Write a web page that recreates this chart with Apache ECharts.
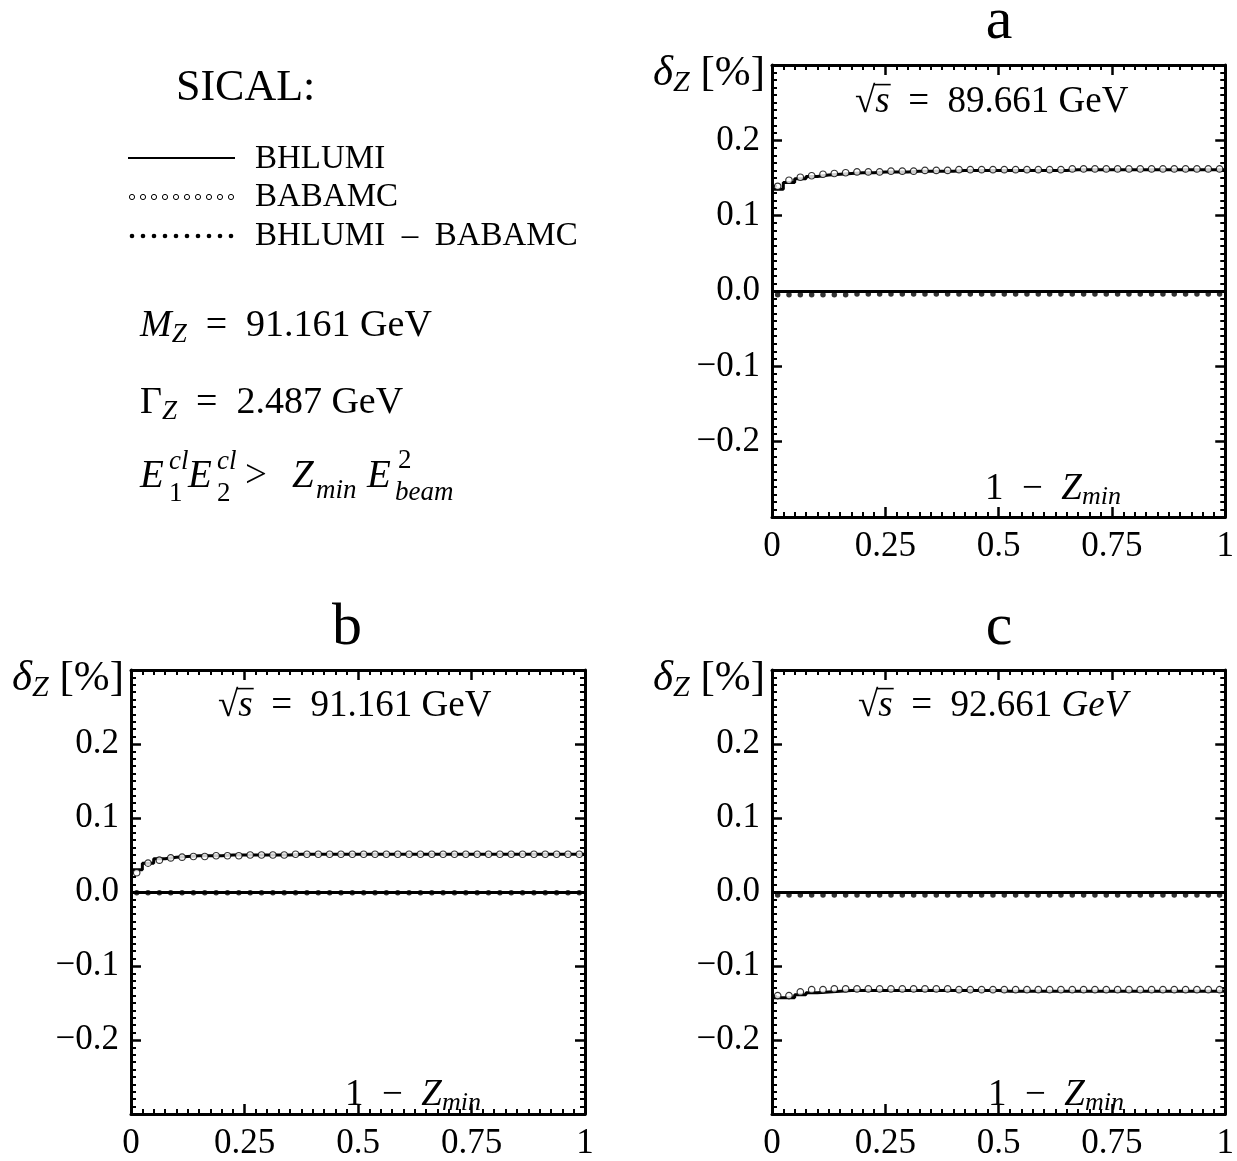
<!DOCTYPE html>
<html><head><meta charset="utf-8">
<script src="https://cdn.jsdelivr.net/npm/echarts@6/dist/echarts.min.js"></script>
<style>html,body{margin:0;padding:0;background:#fff}#c{width:1237px;height:1161px}</style>
</head><body><div id="c"></div>
<script>
// ---- data ----
const binLeft = [0,0.025,0.05,0.075,0.1,0.125,0.15,0.175,0.2,0.225,0.25,0.275,0.3,0.325,0.35,0.375,0.4,0.425,0.45,0.475,0.5,0.525,0.55,0.575,0.6,0.625,0.65,0.675,0.7,0.725,0.75,0.775,0.8,0.825,0.85,0.875,0.9,0.925,0.95,0.975];
const binMid = [0.0125,0.0375,0.0625,0.0875,0.1125,0.1375,0.1625,0.1875,0.2125,0.2375,0.2625,0.2875,0.3125,0.3375,0.3625,0.3875,0.4125,0.4375,0.4625,0.4875,0.5125,0.5375,0.5625,0.5875,0.6125,0.6375,0.6625,0.6875,0.7125,0.7375,0.7625,0.7875,0.8125,0.8375,0.8625,0.8875,0.9125,0.9375,0.9625,0.9875];
const xTickLabels = ['0','0.25','0.5','0.75','1'];
const yTickLabels = ['−0.2','−0.1','0.0','0.1','0.2'];

// panel a: sqrt(s) = 89.661 GeV
const bhlumiA = [0.135,0.144,0.149,0.152,0.154,0.155,0.156,0.157,0.157,0.158,0.158,0.158,0.159,0.159,0.159,0.159,0.160,0.160,0.160,0.160,0.160,0.160,0.160,0.160,0.160,0.160,0.161,0.161,0.161,0.161,0.161,0.161,0.161,0.161,0.161,0.161,0.161,0.161,0.161,0.161];
const babamcA = [0.139,0.147,0.151,0.153,0.155,0.156,0.157,0.158,0.158,0.158,0.159,0.159,0.159,0.160,0.160,0.160,0.161,0.161,0.161,0.161,0.161,0.161,0.161,0.161,0.161,0.161,0.162,0.162,0.162,0.162,0.162,0.162,0.162,0.162,0.162,0.162,0.162,0.162,0.162,0.162];
const diffA = [-0.005,-0.005,-0.005,-0.005,-0.005,-0.005,-0.005,-0.004,-0.004,-0.004,-0.004,-0.004,-0.004,-0.004,-0.004,-0.004,-0.004,-0.004,-0.004,-0.004,-0.004,-0.004,-0.004,-0.004,-0.004,-0.004,-0.004,-0.004,-0.004,-0.004,-0.004,-0.004,-0.004,-0.004,-0.004,-0.004,-0.004,-0.004,-0.004,-0.004];

// panel b: sqrt(s) = 91.161 GeV
const bhlumiB = [0.030,0.039,0.045,0.047,0.048,0.049,0.049,0.049,0.050,0.050,0.050,0.050,0.050,0.050,0.051,0.051,0.051,0.051,0.051,0.051,0.051,0.051,0.051,0.051,0.051,0.051,0.051,0.051,0.051,0.051,0.051,0.051,0.051,0.051,0.051,0.051,0.051,0.051,0.051,0.051];
const babamcB = [0.026,0.039,0.043,0.046,0.047,0.048,0.048,0.049,0.049,0.049,0.050,0.050,0.050,0.050,0.051,0.051,0.051,0.051,0.051,0.051,0.051,0.051,0.051,0.051,0.051,0.051,0.051,0.051,0.051,0.051,0.051,0.051,0.051,0.051,0.051,0.051,0.051,0.051,0.051,0.051];
const diffB = [-0.001,-0.001,-0.001,-0.001,-0.001,-0.001,-0.001,-0.001,-0.001,-0.001,-0.001,-0.001,-0.001,-0.001,-0.001,-0.001,-0.001,-0.001,-0.001,-0.001,-0.001,-0.001,-0.001,-0.001,-0.001,-0.001,-0.001,-0.001,-0.001,-0.001,-0.001,-0.001,-0.001,-0.001,-0.001,-0.001,-0.001,-0.001,-0.001,-0.001];

// panel c: sqrt(s) = 92.661 GeV
const bhlumiC = [-0.143,-0.143,-0.139,-0.136,-0.135,-0.134,-0.133,-0.133,-0.133,-0.133,-0.133,-0.133,-0.133,-0.133,-0.133,-0.133,-0.133,-0.133,-0.133,-0.133,-0.134,-0.134,-0.134,-0.134,-0.134,-0.134,-0.134,-0.134,-0.134,-0.134,-0.134,-0.134,-0.134,-0.134,-0.134,-0.134,-0.134,-0.134,-0.134,-0.134];
const babamcC = [-0.140,-0.140,-0.135,-0.132,-0.132,-0.131,-0.131,-0.131,-0.131,-0.131,-0.131,-0.131,-0.131,-0.131,-0.131,-0.131,-0.132,-0.132,-0.132,-0.132,-0.132,-0.132,-0.132,-0.132,-0.132,-0.132,-0.132,-0.132,-0.132,-0.132,-0.132,-0.132,-0.132,-0.132,-0.132,-0.132,-0.132,-0.132,-0.132,-0.132];
const diffC = [-0.004,-0.004,-0.004,-0.004,-0.004,-0.004,-0.004,-0.004,-0.004,-0.004,-0.004,-0.004,-0.004,-0.004,-0.004,-0.004,-0.004,-0.004,-0.004,-0.004,-0.004,-0.004,-0.004,-0.004,-0.004,-0.004,-0.004,-0.004,-0.004,-0.004,-0.004,-0.004,-0.004,-0.004,-0.004,-0.004,-0.004,-0.004,-0.004,-0.004];

const panelNames = ['a','b','c'];
const energies = ['89.661','91.161','92.661'];
const legendNames = ['BHLUMI','BABAMC','BHLUMI\u2002–\u2002BABAMC'];

// ---- chart ----
const FONT = '"Liberation Serif", "DejaVu Serif", serif';
const chart = echarts.init(document.getElementById('c'), null, {renderer:'canvas'});

const grids = [
  {left:772, top:65, width:454, height:452},
  {left:131, top:670, width:454, height:452},
  {left:772, top:670, width:454, height:452}
];
const panels = [
  {bh:bhlumiA, ba:babamcA, df:diffA},
  {bh:bhlumiB, ba:babamcB, df:diffB},
  {bh:bhlumiC, ba:babamcC, df:diffC}
];

function common(){
  return {
    axisLine:{show:true, onZero:false, lineStyle:{color:'#000', width:3}},
    axisTick:{show:true, inside:true, length:10, lineStyle:{color:'#000', width:2.5}},
    minorTick:{show:true, splitNumber:10, length:5, lineStyle:{color:'#000', width:2}},
    splitLine:{show:false}, minorSplitLine:{show:false}
  };
}
const xAxes = [], yAxes = [], series = [];
grids.forEach((g, i) => {
  ['bottom','top'].forEach(pos => {
    xAxes.push(Object.assign(common(), {
      type:'value', gridIndex:i, position:pos, min:0, max:1, interval:0.25,
      axisLabel:{show:pos==='bottom', margin:12, color:'#000', fontFamily:FONT, fontSize:35,
        formatter:v => xTickLabels[Math.round(v*4)]}
    }));
  });
  ['left','right'].forEach(pos => {
    yAxes.push(Object.assign(common(), {
      type:'value', gridIndex:i, position:pos, min:-0.3, max:0.3, interval:0.1,
      axisLabel:{show:pos==='left', margin:12, color:'#000', fontFamily:FONT, fontSize:35,
        formatter:v => { const k = Math.round(v*10); return (k>=-2 && k<=2) ? yTickLabels[k+2] : ''; }}
    }));
  });
  const p = panels[i];
  const stepData = binLeft.map((x,k)=>[x, p.bh[k]]).concat([[1, p.bh[p.bh.length-1]]]);
  series.push({
    name:'BHLUMI', type:'line', xAxisIndex:2*i, yAxisIndex:2*i, step:'end', data:stepData,
    symbol:'none', lineStyle:{color:'#000', width:3}, z:3
  });
  series.push({
    name:'BHLUMI − BABAMC', type:'scatter', xAxisIndex:2*i, yAxisIndex:2*i,
    data:binMid.map((x,k)=>[x, p.df[k]]), symbol:'circle', symbolSize:5.5,
    itemStyle:{color:'#000'}, z:5,
    markLine:{silent:true, symbol:['none','none'], label:{show:false},
      lineStyle:{type:'solid', color:'#000', width:3}, data:[{yAxis:0}]}
  });
  series.push({
    name:'BABAMC', type:'scatter', xAxisIndex:2*i, yAxisIndex:2*i,
    data:binMid.map((x,k)=>[x, p.ba[k]]), symbol:'circle', symbolSize:6.5,
    itemStyle:{color:'#fff', borderColor:'#000', borderWidth:1.2}, z:4
  });
});

// ---- text ----
const SP = '\u2002';
function rich(size){
  const s = size, ss = Math.round(size*0.7);
  return {
    n:{fontSize:s, fontFamily:FONT, color:'#000'},
    i:{fontSize:s, fontFamily:FONT, fontStyle:'italic', color:'#000'},
    sub:{fontSize:ss, fontFamily:FONT, fontStyle:'italic', color:'#000', padding:[Math.round(s*0.45),0,0,0]}
  };
}
function txt(x, y, text, size, opt){
  opt = opt || {};
  const st = {text, fill:'#000', font:(opt.italic?'italic ':'')+size+'px '+FONT,
    fontSize:size, fontFamily:FONT, fontStyle:opt.italic?'italic':'normal',
    align:opt.align||'left', verticalAlign:'middle', textAlign:opt.align||'left', textVerticalAlign:'middle'};
  if (opt.rich) st.rich = opt.rich;
  return {type:'text', x, y, silent:true, style:st};
}
const ctx = document.createElement('canvas').getContext('2d');
function measure(t, size, italic){ ctx.font = (italic?'italic ':'')+size+'px '+FONT; return ctx.measureText(t).width; }

const gfx = [];
// panel titles
gfx.push(txt(999, 22, panelNames[0], 60, {align:'center'}));
gfx.push(txt(347, 628, panelNames[1], 60, {align:'center'}));
gfx.push(txt(999, 628, panelNames[2], 60, {align:'center'}));
// y-axis names
const yname = '{i|δ}{sub|Z}{n| [%]}';
gfx.push(txt(765, 74, yname, 43, {align:'right', rich:rich(43)}));
gfx.push(txt(124, 679, yname, 43, {align:'right', rich:rich(43)}));
gfx.push(txt(765, 679, yname, 43, {align:'right', rich:rich(43)}));
// sqrt(s) labels with overline over s
function sqrtLabel(x, y, energy, italicUnit){
  const size = 37;
  const text = '{n|√}{i|s}{n|'+SP+'='+SP+energy+' }' + (italicUnit ? '{i|GeV}' : '{n|GeV}');
  gfx.push(txt(x, y, text, size, {rich:rich(size)}));
  const w1 = measure('√', size, false), w2 = measure('s', size, true);
  gfx.push({type:'line', silent:true, shape:{x1:x+w1-1.5, y1:y-0.47*size, x2:x+w1+w2+1, y2:y-0.47*size}, style:{stroke:'#000', lineWidth:1.6}});
}
sqrtLabel(855, 102, energies[0], false);
sqrtLabel(218, 706, energies[1], false);
sqrtLabel(858, 706, energies[2], true);
// x-axis names
const xname = '{n|1'+SP+'−'+SP+'}{i|Z}{sub|min}';
gfx.push(txt(985, 489, xname, 37, {rich:rich(37)}));
gfx.push(txt(345, 1095, xname, 37, {rich:rich(37)}));
gfx.push(txt(988, 1095, xname, 37, {rich:rich(37)}));
// left info block
gfx.push(txt(176, 88, 'SICAL:', 44));
gfx.push({type:'line', silent:true, shape:{x1:128, y1:158, x2:235, y2:158}, style:{stroke:'#000', lineWidth:2}});
for (let k=0;k<10;k++){
  gfx.push({type:'circle', silent:true, shape:{cx:132+11*k, cy:197, r:2.6}, style:{fill:'#fff', stroke:'#000', lineWidth:1}});
  gfx.push({type:'circle', silent:true, shape:{cx:132+11*k, cy:236, r:2.3}, style:{fill:'#000'}});
}
gfx.push(txt(255, 159, legendNames[0], 33));
gfx.push(txt(255, 197, legendNames[1], 33));
gfx.push(txt(255, 236, legendNames[2], 33));
gfx.push(txt(140, 326, '{i|M}{sub|Z}{n|'+SP+'='+SP+'91.161 GeV}', 38, {rich:rich(38)}));
gfx.push(txt(140, 403, '{n|Γ}{sub|Z}{n|'+SP+'='+SP+'2.487 GeV}', 38, {rich:rich(38)}));
// E1cl E2cl > Zmin E2beam
gfx.push(txt(140, 477, 'E', 39, {italic:true}));
gfx.push(txt(169, 462, 'cl', 27, {italic:true}));
gfx.push(txt(169, 494, '1', 27));
gfx.push(txt(188, 477, 'E', 39, {italic:true}));
gfx.push(txt(217, 462, 'cl', 27, {italic:true}));
gfx.push(txt(217, 494, '2', 27));
gfx.push(txt(245, 477, '>', 39));
gfx.push(txt(292, 477, 'Z', 39, {italic:true}));
gfx.push(txt(316, 491, 'min', 27, {italic:true}));
gfx.push(txt(367, 477, 'E', 39, {italic:true}));
gfx.push(txt(398, 461, '2', 27));
gfx.push(txt(395, 493, 'beam', 27, {italic:true}));

chart.setOption({
  animation:false,
  backgroundColor:'#fff',
  grid:grids,
  xAxis:xAxes,
  yAxis:yAxes,
  series:series,
  graphic:{elements:gfx}
});
</script></body></html>
